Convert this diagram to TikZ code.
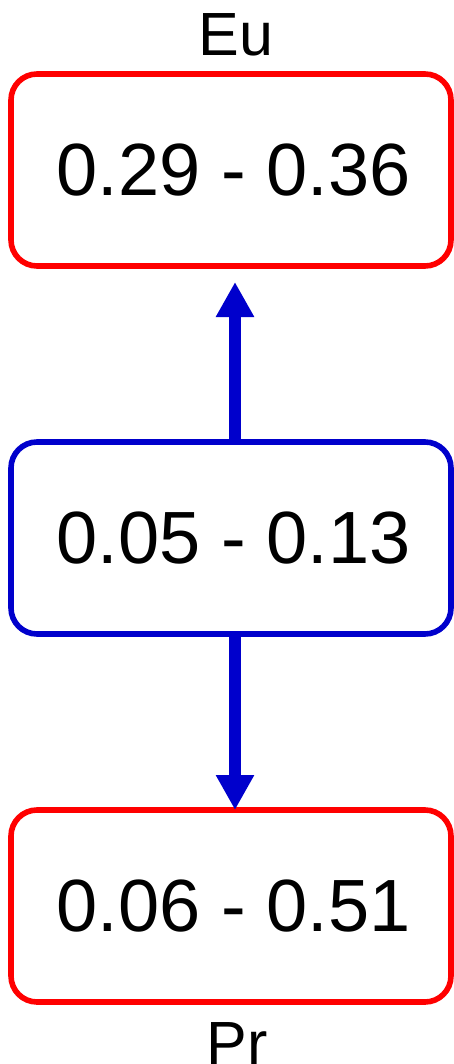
\documentclass[tikz,border=0pt]{standalone}
\usepackage{fontspec}
\setmainfont{Liberation Sans}
\usetikzlibrary{arrows.meta}
\definecolor{boxred}{RGB}{255,0,0}
\definecolor{boxblue}{RGB}{0,0,204}
\tikzset{
  valbox/.style={draw=#1, line width=5.6pt, rounded corners=26pt, minimum width=440pt, minimum height=192pt, inner sep=0pt, outer sep=0pt, font=\fontsize{74}{74}\selectfont, text=black},
  lbl/.style={font=\fontsize{61}{61}\selectfont, text=black, anchor=base, inner sep=0pt},
  bigarrow/.style={draw=boxblue, line width=12pt, -{Triangle[width=36pt,length=35pt]}}
}
\begin{document}
\begin{tikzpicture}[x=1pt,y=-1pt]
\useasboundingbox (0,0) rectangle (454,1064);
\node[valbox=boxred] (eu) at (231,170) {\hspace{5pt}0.29 - 0.36};
\node[valbox=boxblue] (mid) at (231,538) {\hspace{5pt}0.05 - 0.13};
\node[valbox=boxred] (pr) at (231,906) {\hspace{5pt}0.06 - 0.51};
\node[lbl] (eulabel) at (236,55.7) {Eu};
\node[lbl] (prlabel) at (237,1064) {Pr};
\draw[bigarrow] ([xshift=4pt]mid.north) -- ([xshift=4pt,yshift=-16pt]eu.south);
\draw[bigarrow] ([xshift=4pt]mid.south) -- ([xshift=4pt]pr.north);
\end{tikzpicture}
\end{document}
